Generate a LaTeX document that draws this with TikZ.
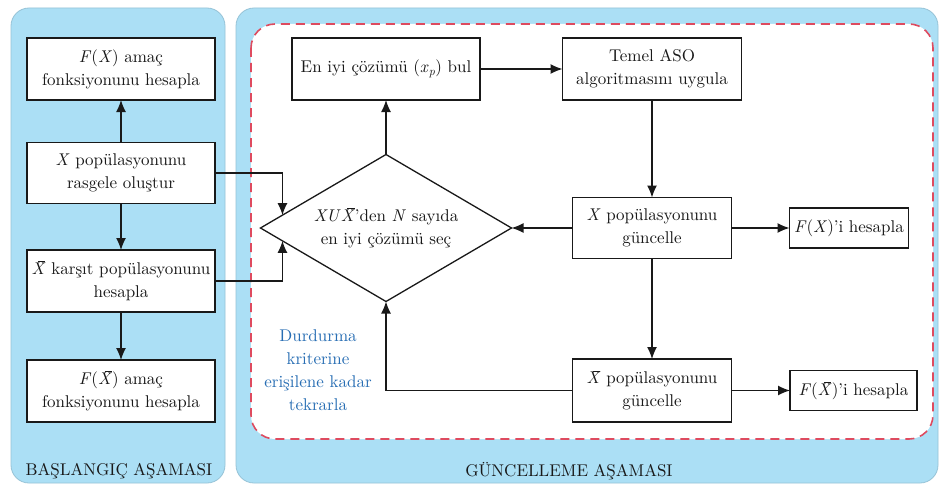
\documentclass[tikz,border=0pt]{standalone}
\usepackage{fontspec}
\setmainfont{lmroman10-regular.otf}[
  BoldFont=lmroman10-bold.otf,
  ItalicFont=lmroman10-italic.otf,
  BoldItalicFont=lmroman10-bolditalic.otf]
\usetikzlibrary{arrows.meta,shapes.geometric,calc}
\definecolor{panelfill}{RGB}{171,223,245}
\definecolor{panelline}{RGB}{150,195,215}
\definecolor{loopred}{RGB}{222,75,95}
\definecolor{notecol}{RGB}{40,110,180}
\definecolor{ink}{RGB}{25,25,25}
% italic X with a bar over it, adding no width of its own
\newcommand{\Xb}{\textit{X}\llap{\rule[0.74em]{0.42em}{0.05em}\kern0.02em}}
\begin{document}
\begin{tikzpicture}[x=1pt,y=-1pt,
  font=\fontsize{17}{23}\selectfont,
  panel/.style={draw=panelline, line width=0.8pt, fill=panelfill, rounded corners=18pt},
  loopframe/.style={draw=loopred, line width=1.6pt, dash pattern=on 9pt off 6pt, rounded corners=24pt, fill=white},
  stepbox/.style={draw=ink, line width=1.3pt, fill=white, align=center, inner sep=0pt, outer sep=0pt, text=ink},
  choice/.style={draw=ink, line width=1.3pt, fill=white, align=center, diamond, aspect=1.72, inner sep=0pt, outer sep=0pt, text=ink},
  flow/.style={draw=ink, line width=1.3pt, -{Latex[length=12pt,width=10pt]}},
  phase/.style={text=ink},
  note/.style={text=notecol, align=center},
  ]
\useasboundingbox (0,0) rectangle (939,487);
\fill[white] (0,0) rectangle (939,487);

% phase panels
\path[panel] (11,8) rectangle (225,483);
\path[panel] (236,8) rectangle (938,483);
\path[loopframe] (251,24) rectangle (933,439);

% initialisation phase
\node[stepbox, minimum width=188pt, minimum height=62pt] (fx0) at (121,69)
  {\textit{F}(\textit{X}) amaç\\fonksiyonunu hesapla};
\node[stepbox, minimum width=188pt, minimum height=61pt] (xgen) at (121,173)
  {\textit{X} popülasyonunu\\rasgele oluştur};
\node[stepbox, minimum width=188pt, minimum height=62pt] (xopp) at (121,281)
  {\Xb\ karşıt popülasyonunu\\hesapla};
\node[stepbox, minimum width=188pt, minimum height=62pt] (fxb0) at (121,391)
  {\textit{F}(\Xb) amaç\\fonksiyonunu hesapla};
\node[phase] (lblA) at (119,471) {BAŞLANGIÇ AŞAMASI};

% update phase
\node[choice, minimum width=251pt, minimum height=147pt] (sel) at (386,228)
  {\textit{XU}\Xb’den \textit{N} sayıda\\en iyi çözümü seç};
\node[stepbox, minimum width=188pt, minimum height=62pt] (best) at (386,69)
  {En iyi çözümü (\textit{x}\textsubscript{\textit{p}}) bul};
\node[stepbox, minimum width=179pt, minimum height=62pt] (aso) at (652,69)
  {Temel ASO\\algoritmasını uygula};
\node[stepbox, minimum width=159pt, minimum height=61pt] (xupd) at (652,228)
  {\textit{X} popülasyonunu\\güncelle};
\node[stepbox, minimum width=119pt, minimum height=40pt] (fx) at (849,228)
  {\textit{F}(\textit{X})’i hesapla};
\node[stepbox, minimum width=127pt, minimum height=40pt] (fxb) at (853.5,390.5)
  {\textit{F}(\Xb)’i hesapla};
\node[stepbox, minimum width=159pt, minimum height=63pt] (xbupd) at (652,390.5)
  {\Xb\ popülasyonunu\\güncelle};
\node[note] (stop) at (318,370) {Durdurma\\kriterine\\erişilene kadar\\tekrarla};
\node[phase] (lblB) at (569,471) {GÜNCELLEME AŞAMASI};

% connectors
\draw[flow] (xgen) -- (fx0);
\draw[flow] (xgen) -- (xopp);
\draw[flow] (xopp) -- (fxb0);
\draw[flow] (xgen.east) -| ($(sel.west)!0.175!(sel.north)$);
\draw[flow] (xopp.east) -| ($(sel.west)!0.175!(sel.south)$);
\draw[flow] (sel.north) -- (best.south);
\draw[flow] (best.east) -- (aso.west);
\draw[flow] (aso.south) -- (xupd.north);
\draw[flow] (xupd.west) -- (sel.east);
\draw[flow] (xupd.east) -- (fx.west);
\draw[flow] (xupd.south) -- (xbupd.north);
\draw[flow] (xbupd.west) -| (sel.south);
\draw[flow] (xbupd.east) -- (fxb.west);
\end{tikzpicture}
\end{document}
